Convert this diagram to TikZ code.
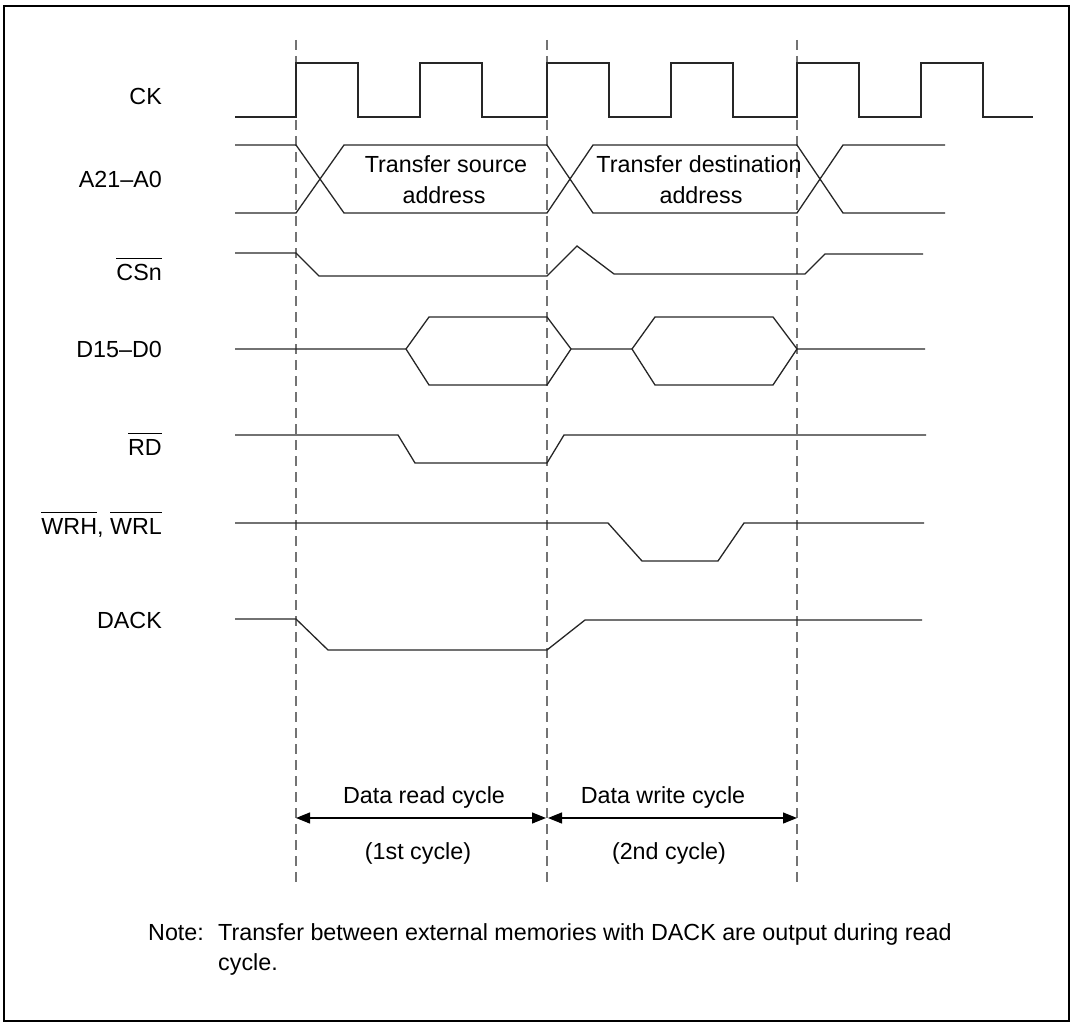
\documentclass[tikz,border=0pt]{standalone}
\usepackage{fontspec}
\setmainfont{Liberation Sans}
\usetikzlibrary{arrows.meta}
\newcommand{\ovl}[1]{$\overline{\rule{0pt}{0.86em}\mbox{#1}}$}
\begin{document}
\begin{tikzpicture}[x=1pt,y=-1pt,
  sig/.style={line width=1.3pt, black!85, line join=miter},
  guide/.style={black!55, line width=1.1pt, dash pattern=on 10pt off 6pt},
  lab/.style={anchor=base east, font=\fontsize{23.3}{27}\selectfont, inner sep=0pt},
  txt/.style={font=\fontsize{23.3}{27}\selectfont, inner sep=0pt},
  dimarrow/.style={line width=1.2pt, {Triangle[length=14pt,width=11pt]}-{Triangle[length=14pt,width=11pt]}}]

\useasboundingbox (0,0) rectangle (1072,1022);
\draw[line width=2pt] (4,6) rectangle (1069,1021);

% guide lines
\coordinate (g1t) at (296,40);  \coordinate (g1b) at (296,883);
\coordinate (g2t) at (547,40);  \coordinate (g2b) at (547,883);
\coordinate (g3t) at (797,40);  \coordinate (g3b) at (797,883);
\draw[guide] (g1t) -- (g1b);
\draw[guide] (g2t) -- (g2b);
\draw[guide] (g3t) -- (g3b);

% labels
\node[lab] (lck)  at (162,105) {CK};
\node[lab] (la)   at (162,188) {A21--A0};
\node[lab] (lcs)  at (162,280) {\ovl{CSn}};
\node[lab] (ld)   at (162,357) {D15--D0};
\node[lab] (lrd)  at (162,455) {\ovl{RD}};
\node[lab] (lwr)  at (162,534) {\ovl{WRH}, \ovl{WRL}};
\node[lab] (ldk)  at (162,628) {DACK};

% CK
\draw[sig] (235,117) -- (296,117) -- (296,63) -- (358,63) -- (358,117) -- (420,117) -- (420,63) -- (482,63) -- (482,117) -- (547,117) -- (547,63) -- (609,63) -- (609,117) -- (671,117) -- (671,63) -- (733,63) -- (733,117) -- (797,117) -- (797,63) -- (859,63) -- (859,117) -- (921,117) -- (921,63) -- (983,63) -- (983,117) -- (1033,117);

% A21-A0
\draw[sig] (235,145) -- (296,145) -- (344,213) -- (547,213) -- (593,145) -- (797,145) -- (843,213) -- (945,213);
\draw[sig] (235,213) -- (296,213) -- (344,145) -- (547,145) -- (593,213) -- (797,213) -- (843,145) -- (945,145);
\node[txt] (tsrc1) at (446,164) {Transfer source};
\node[txt] (tsrc2) at (444,195) {address};
\node[txt] (tdst1) at (699,164) {Transfer destination};
\node[txt] (tdst2) at (701,195) {address};

% CSn
\draw[sig] (235,253) -- (296,253) -- (319,276) -- (547,276) -- (577,246) -- (614,274) -- (805,274) -- (825,254) -- (923,254);

% D15-D0
\draw[sig] (235,349) -- (406,349) -- (429,317) -- (547,317) -- (571,349) -- (632,349) -- (655,317) -- (773,317) -- (797,349) -- (925,349);
\draw[sig] (406,349) -- (429,385) -- (547,385) -- (571,349);
\draw[sig] (632,349) -- (655,385) -- (773,385) -- (797,349);

% RD
\draw[sig] (235,435) -- (398,435) -- (415,463) -- (547,463) -- (564,435) -- (926,435);

% WRH, WRL
\draw[sig] (235,523) -- (608,523) -- (642,561) -- (718,561) -- (744,523) -- (924,523);

% DACK
\draw[sig] (235,619) -- (296,619) -- (328,650) -- (547,650) -- (585,620) -- (922,620);

% cycle arrows
\coordinate (a1l) at (296,818); \coordinate (a1r) at (546,818);
\coordinate (a2l) at (548,818); \coordinate (a2r) at (797,818);
\draw[dimarrow] (a1l) -- (a1r);
\draw[dimarrow] (a2l) -- (a2r);
\node[txt] (rc1) at (424,797) {Data read cycle};
\node[txt] (rc2) at (418,853) {(1st cycle)};
\node[txt] (wc1) at (663,797) {Data write cycle};
\node[txt] (wc2) at (669,853) {(2nd cycle)};

% note
\node[txt, anchor=base west] (note) at (148,940) {Note:};
\node[txt, anchor=base west] (nt1) at (218,940) {Transfer between external memories with DACK are output during read};
\node[txt, anchor=base west] (nt2) at (218,970) {cycle.};
\end{tikzpicture}
\end{document}
